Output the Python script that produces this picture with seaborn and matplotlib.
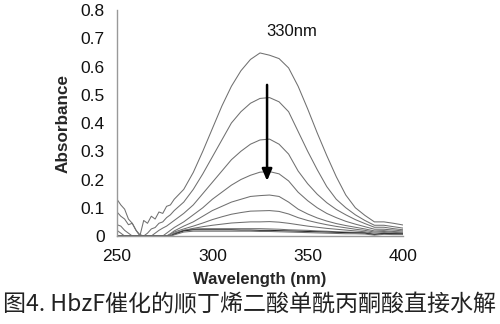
import numpy as np
import pandas as pd
import matplotlib
matplotlib.use("Agg")
import matplotlib.pyplot as plt
import seaborn as sns

# Wavelength grid (nm): fine steps in the noisy UV region, 5 nm steps after
wavelength = list(range(250, 281, 2)) + list(range(285, 401, 5))

# Absorbance traces, recorded successively during hydrolysis (highest first)
scan_01 = [0.13, 0.11, 0.095, 0.06, 0.045, 0.02, 0.0, 0.055, 0.045, 0.07, 0.06, 0.085, 0.08, 0.105, 0.11, 0.13,
           0.165, 0.225, 0.30, 0.38, 0.46, 0.53, 0.585, 0.625, 0.648, 0.64, 0.628, 0.595, 0.53, 0.45,
           0.365, 0.285, 0.21, 0.145, 0.10, 0.073, 0.05, 0.05, 0.045, 0.039]
scan_02 = [0.085, 0.07, 0.06, 0.04, 0.045, 0.02, 0.005, 0.0, 0.01, 0.025, 0.03, 0.045, 0.05, 0.065, 0.075, 0.09,
           0.12, 0.165, 0.22, 0.28, 0.34, 0.40, 0.44, 0.47, 0.487, 0.49, 0.475, 0.44, 0.37, 0.30,
           0.235, 0.175, 0.13, 0.10, 0.075, 0.055, 0.038, 0.038, 0.033, 0.028]
scan_03 = [0.04, 0.035, 0.02, 0.01, 0.0, 0.0, 0.0, 0.0, 0.0, 0.0, 0.01, 0.02, 0.028, 0.035, 0.045, 0.055,
           0.08, 0.11, 0.15, 0.19, 0.23, 0.27, 0.30, 0.325, 0.34, 0.343, 0.325, 0.29, 0.23, 0.185,
           0.148, 0.118, 0.094, 0.075, 0.058, 0.044, 0.031, 0.031, 0.026, 0.022]
scan_04 = [0.02, 0.01, 0.0, 0.0, 0.0, 0.0, 0.0, 0.0, 0.0, 0.0, 0.0, 0.0, 0.0, 0.01, 0.02, 0.03,
           0.05, 0.075, 0.10, 0.13, 0.155, 0.18, 0.20, 0.215, 0.226, 0.228, 0.22, 0.195, 0.155, 0.125,
           0.10, 0.08, 0.065, 0.052, 0.042, 0.033, 0.024, 0.024, 0.021, 0.018]
scan_05 = [0.0, 0.0, 0.0, 0.0, 0.0, 0.0, 0.0, 0.0, 0.0, 0.0, 0.0, 0.0, 0.0, 0.0, 0.008, 0.018,
           0.035, 0.05, 0.07, 0.09, 0.105, 0.12, 0.13, 0.14, 0.143, 0.145, 0.14, 0.12, 0.095, 0.078,
           0.064, 0.053, 0.044, 0.037, 0.031, 0.025, 0.018, 0.019, 0.016, 0.014]
scan_06 = [0.0, 0.0, 0.0, 0.0, 0.0, 0.0, 0.0, 0.0, 0.0, 0.0, 0.0, 0.0, 0.0, 0.0, 0.005, 0.014,
           0.025, 0.035, 0.046, 0.058, 0.068, 0.077, 0.083, 0.088, 0.089, 0.09, 0.087, 0.078, 0.065, 0.055,
           0.047, 0.04, 0.034, 0.029, 0.024, 0.02, 0.014, 0.016, 0.013, 0.011]
scan_07 = [0.0, 0.0, 0.0, 0.0, 0.0, 0.0, 0.0, 0.0, 0.0, 0.0, 0.0, 0.0, 0.0, 0.0, 0.0, 0.01,
           0.02, 0.027, 0.033, 0.038, 0.042, 0.046, 0.048, 0.05, 0.05, 0.051, 0.049, 0.045, 0.04, 0.035,
           0.031, 0.027, 0.024, 0.021, 0.018, 0.015, 0.01, 0.012, 0.01, 0.009]
scan_08 = [0.0, 0.0, 0.0, 0.0, 0.0, 0.0, 0.0, 0.0, 0.0, 0.0, 0.0, 0.0, 0.0, 0.0, 0.0, 0.008,
           0.02, 0.025, 0.026, 0.026, 0.026, 0.026, 0.026, 0.026, 0.026, 0.025, 0.024, 0.022, 0.021, 0.02,
           0.018, 0.017, 0.015, 0.014, 0.013, 0.012, 0.006, 0.01, 0.009, 0.008]
scan_09 = [0.0, 0.0, 0.0, 0.0, 0.0, 0.0, 0.0, 0.0, 0.0, 0.0, 0.0, 0.0, 0.0, 0.0, 0.0, 0.006,
           0.018, 0.022, 0.022, 0.022, 0.022, 0.022, 0.021, 0.021, 0.02, 0.02, 0.019, 0.018, 0.017, 0.016,
           0.015, 0.014, 0.013, 0.012, 0.011, 0.01, 0.005, 0.009, 0.008, 0.007]
scan_10 = [0.0, 0.0, 0.0, 0.0, 0.0, 0.0, 0.0, 0.0, 0.0, 0.0, 0.0, 0.0, 0.0, 0.0, 0.0, 0.004,
           0.014, 0.017, 0.017, 0.017, 0.017, 0.017, 0.017, 0.017, 0.016, 0.016, 0.015, 0.014, 0.013, 0.012,
           0.011, 0.01, 0.009, 0.008, 0.008, 0.007, 0.003, 0.006, 0.005, 0.005]

scans = [scan_01, scan_02, scan_03, scan_04, scan_05, scan_06, scan_07, scan_08, scan_09, scan_10]
scan_names = [f"t{i:02d}" for i in range(1, len(scans) + 1)]

x_ticks = [250, 300, 350, 400]
y_ticks = [0, 0.1, 0.2, 0.3, 0.4, 0.5, 0.6, 0.7, 0.8]
y_tick_labels = ["0", "0.1", "0.2", "0.3", "0.4", "0.5", "0.6", "0.7", "0.8"]

peak_label = "330nm"
arrow_x = 328.7
arrow_from = 0.535
arrow_to = 0.195
caption = "图4. HbzF催化的顺丁烯二酸单酰丙酮酸直接水解"

df = pd.DataFrame({
    "Wavelength": np.tile(wavelength, len(scans)),
    "Absorbance": np.concatenate(scans),
    "scan": np.repeat(scan_names, len(wavelength)),
})

sns.set_style("white")
plt.rcParams["font.family"] = ["Liberation Sans", "Noto Sans CJK SC"]

fig = plt.figure(figsize=(5.0, 3.24), dpi=100)
ax = fig.add_axes([0.234, 0.2716, 0.572, 0.6975])

palette = {n: "#707070" for n in scan_names}
palette["t09"] = "#2a2a2a"
sns.lineplot(data=df, x="Wavelength", y="Absorbance", hue="scan", units="scan",
             estimator=None, palette=palette, linewidth=0.75, legend=False, ax=ax)

ax.set_xlim(250, 400)
ax.set_ylim(0, 0.8)
ax.set_xticks(x_ticks)
ax.set_xticklabels([str(t) for t in x_ticks])
ax.set_yticks(y_ticks)
ax.set_yticklabels(y_tick_labels)

for side in ("top", "right"):
    ax.spines[side].set_visible(False)
for side in ("left", "bottom"):
    ax.spines[side].set_color("#999999")
    ax.spines[side].set_linewidth(1.0)

ax.tick_params(axis="both", which="major", direction="out", length=3, width=0.8,
               color="#999999", labelsize=12.5, labelcolor="#111111")
ax.tick_params(axis="y", pad=6)
ax.tick_params(axis="x", pad=6)

ax.set_xlabel("Wavelength (nm)", fontsize=12, fontweight="bold", labelpad=6)
ax.set_ylabel("Absorbance", fontsize=12.3, fontweight="bold", labelpad=7)

ax.text(341.8, 0.725, peak_label, ha="center", va="center", fontsize=12, color="#111111")
ax.annotate("", xy=(arrow_x, arrow_to), xytext=(arrow_x, arrow_from),
            arrowprops=dict(arrowstyle="-|>,head_length=0.7,head_width=0.3",
                            color="black", lw=1.8, shrinkA=0, shrinkB=0))

fig.text(0.006, 0.058, caption, ha="left", va="center", fontsize=16.6,
         family=["Noto Sans CJK SC", "DejaVu Sans"], color="#222222")

fig.savefig("out.png", dpi=100)
